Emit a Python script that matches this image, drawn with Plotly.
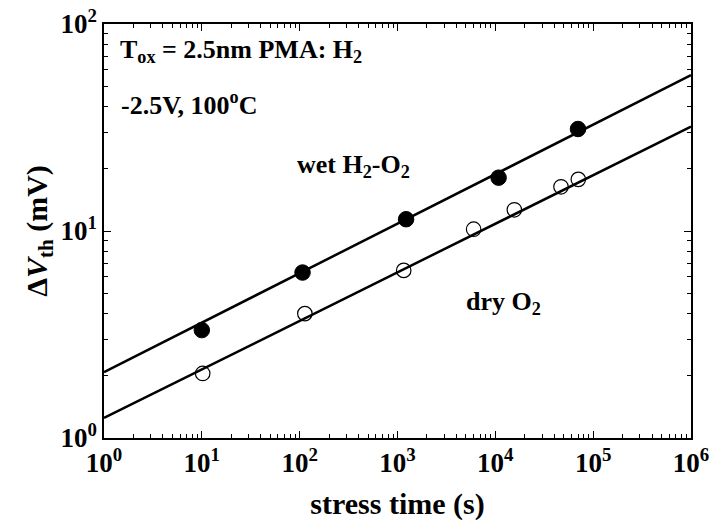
import plotly.graph_objects as go

# Data
wet_t = [10.0, 107, 1224, 10800, 70000]
wet_dvth = [3.32, 6.30, 11.4, 18.1, 31.1]
dry_t = [10.2, 113, 1157, 6000, 15640, 46900, 70500]
dry_dvth = [2.05, 3.99, 6.45, 10.2, 12.66, 16.35, 17.76]

# power-law fit lines (endpoints)
fit_t = [1, 1e6]
wet_fit = [2.08, 56.6]
dry_fit = [1.25, 31.9]

x_tickvals = [1, 10, 100, 1e3, 1e4, 1e5, 1e6]
x_ticktext = ["10<sup>0</sup>", "10<sup>1</sup>", "10<sup>2</sup>", "10<sup>3</sup>",
              "10<sup>4</sup>", "10<sup>5</sup>", "10<sup>6</sup>"]
y_tickvals = [1, 10, 100]
y_ticktext = ["10<sup>0</sup>", "10<sup>1</sup>", "10<sup>2</sup>"]

def minor_vals(lo_exp, hi_exp):
    return [m * 10 ** e for e in range(lo_exp, hi_exp) for m in range(2, 10)]

FONT = "Liberation Serif, Times New Roman, serif"

fig = go.Figure()
fig.add_trace(go.Scatter(x=fit_t, y=wet_fit, mode="lines",
                         line=dict(color="black", width=2.5), showlegend=False, hoverinfo="skip"))
fig.add_trace(go.Scatter(x=fit_t, y=dry_fit, mode="lines",
                         line=dict(color="black", width=2.5), showlegend=False, hoverinfo="skip"))
fig.add_trace(go.Scatter(x=wet_t, y=wet_dvth, mode="markers", name="wet H2-O2",
                         marker=dict(symbol="circle", size=15.5, color="black",
                                     line=dict(color="black", width=1)), showlegend=False))
fig.add_trace(go.Scatter(x=dry_t, y=dry_dvth, mode="markers", name="dry O2",
                         marker=dict(symbol="circle-open", size=14.5, color="black",
                                     line=dict(color="black", width=1.2)), showlegend=False))

axis_common = dict(
    type="log", showgrid=False, zeroline=False, showline=True, linecolor="black",
    linewidth=1.5, mirror="allticks", ticks="inside", ticklen=7, tickwidth=1.2,
    tickcolor="black", tickfont=dict(family=FONT, size=27, color="black"),
    automargin=False, ticklabeloverflow="allow",
)

fig.update_xaxes(
    **axis_common,
    range=[0, 6], tickvals=x_tickvals, ticktext=["<b>%s</b>" % t for t in x_ticktext],
    minor=dict(tickvals=minor_vals(0, 6), ticks="inside", ticklen=4, tickwidth=1, tickcolor="black"),
    title=dict(text="<b>stress time (s)</b>", font=dict(family=FONT, size=30, color="black"),
               standoff=16),
)
fig.update_yaxes(
    **axis_common,
    range=[0, 2], tickvals=y_tickvals, ticktext=["<b>%s</b>" % t for t in y_ticktext],
    minor=dict(tickvals=minor_vals(0, 2), ticks="inside", ticklen=4, tickwidth=1, tickcolor="black"),
    title=dict(text="<b>Δ<i>V</i><sub>th</sub> (mV)</b>", font=dict(family=FONT, size=30, color="black"),
               standoff=4),
)

ann_font = dict(family=FONT, size=26, color="black")
fig.add_annotation(x=0.023, y=0.935, xref="paper", yref="paper", xanchor="left", yanchor="middle",
                   text="<b>T<sub>ox</sub> = 2.5nm PMA: H<sub>2</sub></b>", showarrow=False, font=ann_font)
fig.add_annotation(x=0.026, y=0.809, xref="paper", yref="paper", xanchor="left", yanchor="middle",
                   text="<b>-2.5V, 100<sup>o</sup>C</b>", showarrow=False, font=ann_font)
fig.add_annotation(x=0.325, y=0.657, xref="paper", yref="paper", xanchor="left", yanchor="middle",
                   text="<b>wet H<sub>2</sub>-O<sub>2</sub></b>", showarrow=False, font=ann_font)
fig.add_annotation(x=0.614, y=0.326, xref="paper", yref="paper", xanchor="left", yanchor="middle",
                   text="<b>dry O<sub>2</sub></b>", showarrow=False, font=ann_font)

fig.update_layout(
    width=709, height=527,
    margin=dict(l=103.5, r=18.3, t=24, b=89.3),
    paper_bgcolor="white", plot_bgcolor="white",
)

fig.write_html("out.html", config={"displayModeBar": False},
               post_script="document.body.style.margin='0px';")
